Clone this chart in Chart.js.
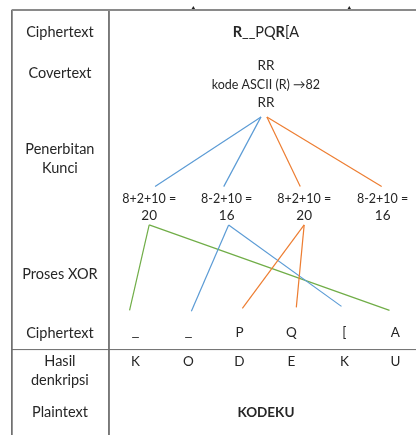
<!DOCTYPE html>
<html>
<head>
<meta charset="utf-8">
<script src="https://cdn.jsdelivr.net/npm/chart.js@4"></script>
<style>
  html, body { margin: 0; padding: 0; background: #fff; overflow: hidden; }
</style>
</head>
<body>
<canvas id="myChart" width="420" height="439"></canvas>
<script>
  // row labels (left column) and their y positions
  const rowLabels = ['Ciphertext', 'Covertext', 'Penerbitan', 'Kunci', 'Proses XOR', 'Ciphertext', 'Hasil', 'denkripsi', 'Plaintext'];
  const rowY = [29, 71, 148, 167, 275, 335, 364, 383, 416];

  const cipherText = 'R__PQR[A';
  const coverLines = ['RR', 'kode ASCII (R) \u219282', 'RR'];
  const coverY = [63, 82, 100];

  // key generation
  const keyExpr = ['8+2+10 =', '8-2+10 =', '8+2+10 =', '8-2+10 ='];
  const keyVals = ['20', '16', '20', '16'];
  const keyX = [148, 227, 306, 386];
  const keyTopX = [154, 224, 302, 385];   // where branch lines meet each key
  const apexX = [262, 262, 268, 268];      // blue for first two, orange for last two

  // ciphertext characters & decryption result
  const cipherChars = ['_', '_', 'P', 'Q', '[', 'A'];
  const plainChars = ['K', 'O', 'D', 'E', 'K', 'U'];
  const charX = [134, 188, 240, 293, 347, 399];
  const xorEndX = [128, 191, 243, 298, 344, 393];
  const xorEndY = [312, 313, 310, 309, 308, 312];
  // which key feeds which ciphertext character
  const keyOfChar = [0, 1, 2, 2, 1, 0];
  const keyBottomX = [148, 229, 306];

  const plainText = 'KODEKU';

  // small markers on the top border
  const topMarksX = [193, 352];

  const blue = '#5B9BD5', orange = '#ED7D31', green = '#70AD47', grid = '#6b6b6b';
  const colorOfKey = [green, blue, orange];

  const datasets = [];
  const seg = (a, b, color, w) => datasets.push({
    type: 'line', data: [a, b], borderColor: color, borderWidth: w || 1.2,
    pointRadius: 0, fill: false, tension: 0
  });

  // table frame
  seg({x: 8, y: 6}, {x: 420, y: 6}, '#8a8a8a', 2);
  seg({x: 8, y: 6}, {x: 8, y: 439}, grid, 1);
  seg({x: 107, y: 6}, {x: 107, y: 439}, grid, 1);
  seg({x: 8, y: 352}, {x: 420, y: 352}, grid, 1);

  datasets.push({
    type: 'scatter', data: topMarksX.map(x => ({x: x, y: 4})),
    pointStyle: 'triangle', pointRadius: 2, backgroundColor: '#222', borderColor: '#222', borderWidth: 0
  });

  // branches from "RR" to each key
  keyTopX.forEach((x, i) => seg({x: apexX[i], y: 115}, {x: x, y: 186}, i < 2 ? blue : orange));

  // XOR lines from keys to ciphertext characters
  keyOfChar.forEach((k, i) => seg({x: keyBottomX[k], y: 225}, {x: xorEndX[i], y: xorEndY[i]}, colorOfKey[k]));

  const font = (size, bold, fam) => (bold ? 'bold ' : '') + size + 'px ' + (fam || 'Lato, "Open Sans", sans-serif');

  const textPlugin = {
    id: 'diagramText',
    afterDatasetsDraw(chart) {
      const c = chart.ctx;
      const sx = chart.scales.x, sy = chart.scales.y;
      const put = (t, x, y, size, bold, fam) => {
        c.font = font(size, bold, fam);
        c.fillText(t, sx.getPixelForValue(x), sy.getPixelForValue(y));
      };
      c.save();
      c.fillStyle = '#262626';
      c.textAlign = 'center';
      c.textBaseline = 'middle';

      rowLabels.forEach((t, i) => put(t, 57, rowY[i], 14.5));

      // R__PQR[A with bold R's
      c.textAlign = 'left';
      let parts = cipherText.split('');
      let widths = parts.map(ch => { c.font = font(14.5, ch === 'R'); return c.measureText(ch).width; });
      let total = widths.reduce((a, b) => a + b, 0);
      let px = sx.getPixelForValue(267) - total / 2;
      parts.forEach((ch, i) => {
        c.font = font(14.5, ch === 'R');
        c.fillText(ch, px, sy.getPixelForValue(29));
        px += widths[i];
      });
      c.textAlign = 'center';

      coverLines.forEach((t, i) => put(t, 267, coverY[i], i === 1 ? 12.5 : 13.5));

      keyExpr.forEach((t, i) => {
        put(t, keyX[i], 199, 12.5);
        put(keyVals[i], keyX[i], 216, 13.5);
      });

      cipherChars.forEach((t, i) => {
        if (t === '_') put(t, charX[i], 334, 13, false, '"DejaVu Sans", sans-serif');
        else put(t, charX[i], 335, 13.5);
      });
      plainChars.forEach((t, i) => put(t, charX[i], 364, 13.5));

      put(plainText, 267, 416, 13.5, true);
      c.restore();
    }
  };

  const ctx = document.getElementById('myChart').getContext('2d');
  const myChart = new Chart(ctx, {
    type: 'scatter',
    data: { datasets: datasets },
    options: {
      responsive: false,
      animation: false,
      maintainAspectRatio: false,
      layout: { padding: 0 },
      plugins: { legend: { display: false }, tooltip: { enabled: false } },
      scales: {
        x: { type: 'linear', min: 0, max: 420, display: false },
        y: { type: 'linear', min: 0, max: 439, reverse: true, display: false }
      }
    },
    plugins: [textPlugin]
  });
</script>
</body>
</html>
